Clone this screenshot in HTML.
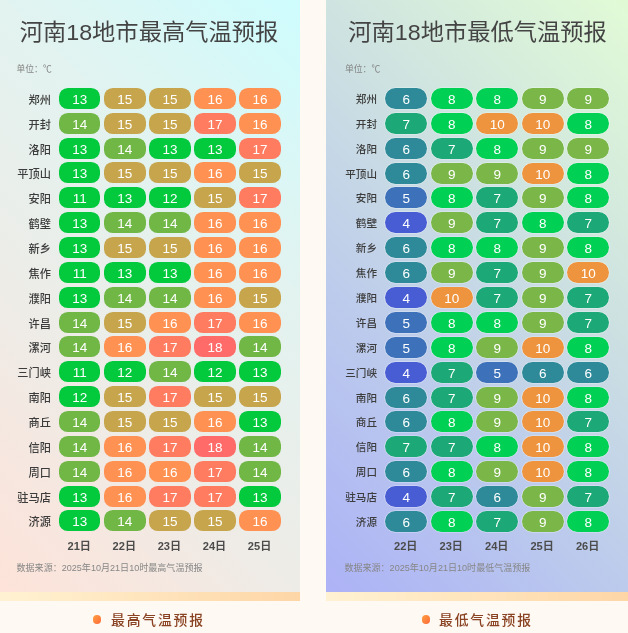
<!DOCTYPE html>
<html lang="zh-CN"><head><meta charset="utf-8"><title>河南18地市气温预报</title>
<style>
html,body{margin:0;padding:0}
body{width:628px;height:633px;background:#fef9f3;position:relative;overflow:hidden;font-family:"Liberation Sans","Noto Sans CJK SC",sans-serif}
.panel{position:absolute;top:0;height:592px;overflow:hidden}
.panel.l{background:linear-gradient(225deg,#cffcfd 1%,#e2f3f0 33.5%,#eeece7 66%,#fde3d9 99%)}
.panel.r{background:linear-gradient(225deg,#e1fad6 1%,#cfe4e0 33.5%,#bccbec 66%,#adb3f6 99%)}
.band{position:absolute;top:592px;height:9px;background:linear-gradient(90deg,#fff2d2,#fed6a6)}
.title{position:absolute;top:14.5px;font-size:23.28px;line-height:34px;color:#444;white-space:nowrap;font-weight:400;transform:scaleY(.955);transform-origin:0 27px}
.unit{position:absolute;top:62px;font-size:8.8px;line-height:14px;color:#848484;white-space:nowrap}
.city{position:absolute;left:0;height:21px;line-height:23.4px;font-size:10.6px;font-weight:500;color:#3c3c3c;text-align:right;white-space:nowrap}
.pill{position:absolute;height:21px;line-height:23px;text-align:center;color:#fff;font-size:13.5px}
.l .city{line-height:24.8px}
.r .pill{box-shadow:0 0 0 0.6px rgba(255,255,255,.5)}
.day{position:absolute;top:536px;height:20px;line-height:20px;font-size:11.1px;font-weight:700;color:#4c4c4c;text-align:center;margin-left:-.5px;white-space:nowrap}
.src{position:absolute;top:560.5px;font-size:9.05px;line-height:14px;color:#868686;white-space:nowrap}
.cap{position:absolute;top:609.6px;height:22px;line-height:22px;font-size:13.8px;font-weight:500;color:#8a4322;white-space:nowrap;letter-spacing:1.83px}
.dot{position:absolute;top:615px;width:8.6px;height:8.6px;border-radius:50%;background:linear-gradient(135deg,#ffa040,#ff6a3a)}
</style></head><body>
<div class="panel l" style="left:0px;width:300px">
<div class="title" style="left:19.7px">河南18地市最高气温预报</div>
<div class="unit" style="left:16.5px">单位：℃</div>
<div class="city" style="top:87.90px;width:50.9px;font-size:11.2px">郑州</div>
<div class="pill" style="top:87.90px;left:59.05px;width:41.4px;background:#03c93d;border-radius:8.8px">13</div>
<div class="pill" style="top:87.90px;left:104.13px;width:41.4px;background:#c6a54d;border-radius:8.8px">15</div>
<div class="pill" style="top:87.90px;left:149.21px;width:41.4px;background:#c6a54d;border-radius:8.8px">15</div>
<div class="pill" style="top:87.90px;left:194.29px;width:41.4px;background:#ff9253;border-radius:8.8px">16</div>
<div class="pill" style="top:87.90px;left:239.37px;width:41.4px;background:#ff9253;border-radius:8.8px">16</div>
<div class="city" style="top:112.75px;width:50.9px;font-size:11.2px">开封</div>
<div class="pill" style="top:112.75px;left:59.05px;width:41.4px;background:#70b746;border-radius:8.8px">14</div>
<div class="pill" style="top:112.75px;left:104.13px;width:41.4px;background:#c6a54d;border-radius:8.8px">15</div>
<div class="pill" style="top:112.75px;left:149.21px;width:41.4px;background:#c6a54d;border-radius:8.8px">15</div>
<div class="pill" style="top:112.75px;left:194.29px;width:41.4px;background:#ff7c60;border-radius:8.8px">17</div>
<div class="pill" style="top:112.75px;left:239.37px;width:41.4px;background:#ff9253;border-radius:8.8px">16</div>
<div class="city" style="top:137.60px;width:50.9px;font-size:11.2px">洛阳</div>
<div class="pill" style="top:137.60px;left:59.05px;width:41.4px;background:#03c93d;border-radius:8.8px">13</div>
<div class="pill" style="top:137.60px;left:104.13px;width:41.4px;background:#70b746;border-radius:8.8px">14</div>
<div class="pill" style="top:137.60px;left:149.21px;width:41.4px;background:#03c93d;border-radius:8.8px">13</div>
<div class="pill" style="top:137.60px;left:194.29px;width:41.4px;background:#03c93d;border-radius:8.8px">13</div>
<div class="pill" style="top:137.60px;left:239.37px;width:41.4px;background:#ff7c60;border-radius:8.8px">17</div>
<div class="city" style="top:162.45px;width:50.9px;font-size:11.2px">平顶山</div>
<div class="pill" style="top:162.45px;left:59.05px;width:41.4px;background:#03c93d;border-radius:8.8px">13</div>
<div class="pill" style="top:162.45px;left:104.13px;width:41.4px;background:#c6a54d;border-radius:8.8px">15</div>
<div class="pill" style="top:162.45px;left:149.21px;width:41.4px;background:#c6a54d;border-radius:8.8px">15</div>
<div class="pill" style="top:162.45px;left:194.29px;width:41.4px;background:#ff9253;border-radius:8.8px">16</div>
<div class="pill" style="top:162.45px;left:239.37px;width:41.4px;background:#c6a54d;border-radius:8.8px">15</div>
<div class="city" style="top:187.30px;width:50.9px;font-size:11.2px">安阳</div>
<div class="pill" style="top:187.30px;left:59.05px;width:41.4px;background:#03c93d;border-radius:8.8px">11</div>
<div class="pill" style="top:187.30px;left:104.13px;width:41.4px;background:#03c93d;border-radius:8.8px">13</div>
<div class="pill" style="top:187.30px;left:149.21px;width:41.4px;background:#03c93d;border-radius:8.8px">12</div>
<div class="pill" style="top:187.30px;left:194.29px;width:41.4px;background:#c6a54d;border-radius:8.8px">15</div>
<div class="pill" style="top:187.30px;left:239.37px;width:41.4px;background:#ff7c60;border-radius:8.8px">17</div>
<div class="city" style="top:212.15px;width:50.9px;font-size:11.2px">鹤壁</div>
<div class="pill" style="top:212.15px;left:59.05px;width:41.4px;background:#03c93d;border-radius:8.8px">13</div>
<div class="pill" style="top:212.15px;left:104.13px;width:41.4px;background:#70b746;border-radius:8.8px">14</div>
<div class="pill" style="top:212.15px;left:149.21px;width:41.4px;background:#70b746;border-radius:8.8px">14</div>
<div class="pill" style="top:212.15px;left:194.29px;width:41.4px;background:#ff9253;border-radius:8.8px">16</div>
<div class="pill" style="top:212.15px;left:239.37px;width:41.4px;background:#ff9253;border-radius:8.8px">16</div>
<div class="city" style="top:237.00px;width:50.9px;font-size:11.2px">新乡</div>
<div class="pill" style="top:237.00px;left:59.05px;width:41.4px;background:#03c93d;border-radius:8.8px">13</div>
<div class="pill" style="top:237.00px;left:104.13px;width:41.4px;background:#c6a54d;border-radius:8.8px">15</div>
<div class="pill" style="top:237.00px;left:149.21px;width:41.4px;background:#c6a54d;border-radius:8.8px">15</div>
<div class="pill" style="top:237.00px;left:194.29px;width:41.4px;background:#ff9253;border-radius:8.8px">16</div>
<div class="pill" style="top:237.00px;left:239.37px;width:41.4px;background:#ff9253;border-radius:8.8px">16</div>
<div class="city" style="top:261.85px;width:50.9px;font-size:11.2px">焦作</div>
<div class="pill" style="top:261.85px;left:59.05px;width:41.4px;background:#03c93d;border-radius:8.8px">11</div>
<div class="pill" style="top:261.85px;left:104.13px;width:41.4px;background:#03c93d;border-radius:8.8px">13</div>
<div class="pill" style="top:261.85px;left:149.21px;width:41.4px;background:#03c93d;border-radius:8.8px">13</div>
<div class="pill" style="top:261.85px;left:194.29px;width:41.4px;background:#ff9253;border-radius:8.8px">16</div>
<div class="pill" style="top:261.85px;left:239.37px;width:41.4px;background:#ff9253;border-radius:8.8px">16</div>
<div class="city" style="top:286.70px;width:50.9px;font-size:11.2px">濮阳</div>
<div class="pill" style="top:286.70px;left:59.05px;width:41.4px;background:#03c93d;border-radius:8.8px">13</div>
<div class="pill" style="top:286.70px;left:104.13px;width:41.4px;background:#70b746;border-radius:8.8px">14</div>
<div class="pill" style="top:286.70px;left:149.21px;width:41.4px;background:#70b746;border-radius:8.8px">14</div>
<div class="pill" style="top:286.70px;left:194.29px;width:41.4px;background:#ff9253;border-radius:8.8px">16</div>
<div class="pill" style="top:286.70px;left:239.37px;width:41.4px;background:#c6a54d;border-radius:8.8px">15</div>
<div class="city" style="top:311.55px;width:50.9px;font-size:11.2px">许昌</div>
<div class="pill" style="top:311.55px;left:59.05px;width:41.4px;background:#70b746;border-radius:8.8px">14</div>
<div class="pill" style="top:311.55px;left:104.13px;width:41.4px;background:#c6a54d;border-radius:8.8px">15</div>
<div class="pill" style="top:311.55px;left:149.21px;width:41.4px;background:#ff9253;border-radius:8.8px">16</div>
<div class="pill" style="top:311.55px;left:194.29px;width:41.4px;background:#ff7c60;border-radius:8.8px">17</div>
<div class="pill" style="top:311.55px;left:239.37px;width:41.4px;background:#ff9253;border-radius:8.8px">16</div>
<div class="city" style="top:336.40px;width:50.9px;font-size:11.2px">漯河</div>
<div class="pill" style="top:336.40px;left:59.05px;width:41.4px;background:#70b746;border-radius:8.8px">14</div>
<div class="pill" style="top:336.40px;left:104.13px;width:41.4px;background:#ff9253;border-radius:8.8px">16</div>
<div class="pill" style="top:336.40px;left:149.21px;width:41.4px;background:#ff7c60;border-radius:8.8px">17</div>
<div class="pill" style="top:336.40px;left:194.29px;width:41.4px;background:#ff6b68;border-radius:8.8px">18</div>
<div class="pill" style="top:336.40px;left:239.37px;width:41.4px;background:#70b746;border-radius:8.8px">14</div>
<div class="city" style="top:361.25px;width:50.9px;font-size:11.2px">三门峡</div>
<div class="pill" style="top:361.25px;left:59.05px;width:41.4px;background:#03c93d;border-radius:8.8px">11</div>
<div class="pill" style="top:361.25px;left:104.13px;width:41.4px;background:#03c93d;border-radius:8.8px">12</div>
<div class="pill" style="top:361.25px;left:149.21px;width:41.4px;background:#70b746;border-radius:8.8px">14</div>
<div class="pill" style="top:361.25px;left:194.29px;width:41.4px;background:#03c93d;border-radius:8.8px">12</div>
<div class="pill" style="top:361.25px;left:239.37px;width:41.4px;background:#03c93d;border-radius:8.8px">13</div>
<div class="city" style="top:386.10px;width:50.9px;font-size:11.2px">南阳</div>
<div class="pill" style="top:386.10px;left:59.05px;width:41.4px;background:#03c93d;border-radius:8.8px">12</div>
<div class="pill" style="top:386.10px;left:104.13px;width:41.4px;background:#c6a54d;border-radius:8.8px">15</div>
<div class="pill" style="top:386.10px;left:149.21px;width:41.4px;background:#ff7c60;border-radius:8.8px">17</div>
<div class="pill" style="top:386.10px;left:194.29px;width:41.4px;background:#c6a54d;border-radius:8.8px">15</div>
<div class="pill" style="top:386.10px;left:239.37px;width:41.4px;background:#c6a54d;border-radius:8.8px">15</div>
<div class="city" style="top:410.95px;width:50.9px;font-size:11.2px">商丘</div>
<div class="pill" style="top:410.95px;left:59.05px;width:41.4px;background:#70b746;border-radius:8.8px">14</div>
<div class="pill" style="top:410.95px;left:104.13px;width:41.4px;background:#c6a54d;border-radius:8.8px">15</div>
<div class="pill" style="top:410.95px;left:149.21px;width:41.4px;background:#c6a54d;border-radius:8.8px">15</div>
<div class="pill" style="top:410.95px;left:194.29px;width:41.4px;background:#ff9253;border-radius:8.8px">16</div>
<div class="pill" style="top:410.95px;left:239.37px;width:41.4px;background:#03c93d;border-radius:8.8px">13</div>
<div class="city" style="top:435.80px;width:50.9px;font-size:11.2px">信阳</div>
<div class="pill" style="top:435.80px;left:59.05px;width:41.4px;background:#70b746;border-radius:8.8px">14</div>
<div class="pill" style="top:435.80px;left:104.13px;width:41.4px;background:#ff9253;border-radius:8.8px">16</div>
<div class="pill" style="top:435.80px;left:149.21px;width:41.4px;background:#ff7c60;border-radius:8.8px">17</div>
<div class="pill" style="top:435.80px;left:194.29px;width:41.4px;background:#ff6b68;border-radius:8.8px">18</div>
<div class="pill" style="top:435.80px;left:239.37px;width:41.4px;background:#70b746;border-radius:8.8px">14</div>
<div class="city" style="top:460.65px;width:50.9px;font-size:11.2px">周口</div>
<div class="pill" style="top:460.65px;left:59.05px;width:41.4px;background:#70b746;border-radius:8.8px">14</div>
<div class="pill" style="top:460.65px;left:104.13px;width:41.4px;background:#ff9253;border-radius:8.8px">16</div>
<div class="pill" style="top:460.65px;left:149.21px;width:41.4px;background:#ff9253;border-radius:8.8px">16</div>
<div class="pill" style="top:460.65px;left:194.29px;width:41.4px;background:#ff7c60;border-radius:8.8px">17</div>
<div class="pill" style="top:460.65px;left:239.37px;width:41.4px;background:#70b746;border-radius:8.8px">14</div>
<div class="city" style="top:485.50px;width:50.9px;font-size:11.2px">驻马店</div>
<div class="pill" style="top:485.50px;left:59.05px;width:41.4px;background:#03c93d;border-radius:8.8px">13</div>
<div class="pill" style="top:485.50px;left:104.13px;width:41.4px;background:#ff9253;border-radius:8.8px">16</div>
<div class="pill" style="top:485.50px;left:149.21px;width:41.4px;background:#ff7c60;border-radius:8.8px">17</div>
<div class="pill" style="top:485.50px;left:194.29px;width:41.4px;background:#ff7c60;border-radius:8.8px">17</div>
<div class="pill" style="top:485.50px;left:239.37px;width:41.4px;background:#03c93d;border-radius:8.8px">13</div>
<div class="city" style="top:510.35px;width:50.9px;font-size:11.2px">济源</div>
<div class="pill" style="top:510.35px;left:59.05px;width:41.4px;background:#03c93d;border-radius:8.8px">13</div>
<div class="pill" style="top:510.35px;left:104.13px;width:41.4px;background:#70b746;border-radius:8.8px">14</div>
<div class="pill" style="top:510.35px;left:149.21px;width:41.4px;background:#c6a54d;border-radius:8.8px">15</div>
<div class="pill" style="top:510.35px;left:194.29px;width:41.4px;background:#c6a54d;border-radius:8.8px">15</div>
<div class="pill" style="top:510.35px;left:239.37px;width:41.4px;background:#ff9253;border-radius:8.8px">16</div>
<div class="day" style="left:59.05px;width:41.4px">21日</div>
<div class="day" style="left:104.13px;width:41.4px">22日</div>
<div class="day" style="left:149.21px;width:41.4px">23日</div>
<div class="day" style="left:194.29px;width:41.4px">24日</div>
<div class="day" style="left:239.37px;width:41.4px">25日</div>
<div class="src" style="left:16.5px">数据来源：2025年10月21日10时最高气温预报</div>
</div>
<div class="panel r" style="left:326px;width:302px">
<div class="title" style="left:22.3px">河南18地市最低气温预报</div>
<div class="unit" style="left:19px">单位：℃</div>
<div class="city" style="top:87.90px;width:51px;font-size:10.6px">郑州</div>
<div class="pill" style="top:87.90px;left:59.20px;width:42.1px;background:#2e8a99;border-radius:10.5px">6</div>
<div class="pill" style="top:87.90px;left:104.68px;width:42.1px;background:#00d053;border-radius:10.5px">8</div>
<div class="pill" style="top:87.90px;left:150.16px;width:42.1px;background:#00d053;border-radius:10.5px">8</div>
<div class="pill" style="top:87.90px;left:195.64px;width:42.1px;background:#7ab648;border-radius:10.5px">9</div>
<div class="pill" style="top:87.90px;left:241.12px;width:42.1px;background:#7ab648;border-radius:10.5px">9</div>
<div class="city" style="top:112.79px;width:51px;font-size:10.6px">开封</div>
<div class="pill" style="top:112.79px;left:59.20px;width:42.1px;background:#1ca877;border-radius:10.5px">7</div>
<div class="pill" style="top:112.79px;left:104.68px;width:42.1px;background:#00d053;border-radius:10.5px">8</div>
<div class="pill" style="top:112.79px;left:150.16px;width:42.1px;background:#ee943f;border-radius:10.5px">10</div>
<div class="pill" style="top:112.79px;left:195.64px;width:42.1px;background:#ee943f;border-radius:10.5px">10</div>
<div class="pill" style="top:112.79px;left:241.12px;width:42.1px;background:#00d053;border-radius:10.5px">8</div>
<div class="city" style="top:137.68px;width:51px;font-size:10.6px">洛阳</div>
<div class="pill" style="top:137.68px;left:59.20px;width:42.1px;background:#2e8a99;border-radius:10.5px">6</div>
<div class="pill" style="top:137.68px;left:104.68px;width:42.1px;background:#1ca877;border-radius:10.5px">7</div>
<div class="pill" style="top:137.68px;left:150.16px;width:42.1px;background:#00d053;border-radius:10.5px">8</div>
<div class="pill" style="top:137.68px;left:195.64px;width:42.1px;background:#7ab648;border-radius:10.5px">9</div>
<div class="pill" style="top:137.68px;left:241.12px;width:42.1px;background:#7ab648;border-radius:10.5px">9</div>
<div class="city" style="top:162.57px;width:51px;font-size:10.6px">平顶山</div>
<div class="pill" style="top:162.57px;left:59.20px;width:42.1px;background:#2e8a99;border-radius:10.5px">6</div>
<div class="pill" style="top:162.57px;left:104.68px;width:42.1px;background:#7ab648;border-radius:10.5px">9</div>
<div class="pill" style="top:162.57px;left:150.16px;width:42.1px;background:#7ab648;border-radius:10.5px">9</div>
<div class="pill" style="top:162.57px;left:195.64px;width:42.1px;background:#ee943f;border-radius:10.5px">10</div>
<div class="pill" style="top:162.57px;left:241.12px;width:42.1px;background:#00d053;border-radius:10.5px">8</div>
<div class="city" style="top:187.46px;width:51px;font-size:10.6px">安阳</div>
<div class="pill" style="top:187.46px;left:59.20px;width:42.1px;background:#3d71ba;border-radius:10.5px">5</div>
<div class="pill" style="top:187.46px;left:104.68px;width:42.1px;background:#00d053;border-radius:10.5px">8</div>
<div class="pill" style="top:187.46px;left:150.16px;width:42.1px;background:#1ca877;border-radius:10.5px">7</div>
<div class="pill" style="top:187.46px;left:195.64px;width:42.1px;background:#7ab648;border-radius:10.5px">9</div>
<div class="pill" style="top:187.46px;left:241.12px;width:42.1px;background:#00d053;border-radius:10.5px">8</div>
<div class="city" style="top:212.35px;width:51px;font-size:10.6px">鹤壁</div>
<div class="pill" style="top:212.35px;left:59.20px;width:42.1px;background:#485cd4;border-radius:10.5px">4</div>
<div class="pill" style="top:212.35px;left:104.68px;width:42.1px;background:#7ab648;border-radius:10.5px">9</div>
<div class="pill" style="top:212.35px;left:150.16px;width:42.1px;background:#1ca877;border-radius:10.5px">7</div>
<div class="pill" style="top:212.35px;left:195.64px;width:42.1px;background:#00d053;border-radius:10.5px">8</div>
<div class="pill" style="top:212.35px;left:241.12px;width:42.1px;background:#1ca877;border-radius:10.5px">7</div>
<div class="city" style="top:237.24px;width:51px;font-size:10.6px">新乡</div>
<div class="pill" style="top:237.24px;left:59.20px;width:42.1px;background:#2e8a99;border-radius:10.5px">6</div>
<div class="pill" style="top:237.24px;left:104.68px;width:42.1px;background:#00d053;border-radius:10.5px">8</div>
<div class="pill" style="top:237.24px;left:150.16px;width:42.1px;background:#00d053;border-radius:10.5px">8</div>
<div class="pill" style="top:237.24px;left:195.64px;width:42.1px;background:#7ab648;border-radius:10.5px">9</div>
<div class="pill" style="top:237.24px;left:241.12px;width:42.1px;background:#00d053;border-radius:10.5px">8</div>
<div class="city" style="top:262.13px;width:51px;font-size:10.6px">焦作</div>
<div class="pill" style="top:262.13px;left:59.20px;width:42.1px;background:#2e8a99;border-radius:10.5px">6</div>
<div class="pill" style="top:262.13px;left:104.68px;width:42.1px;background:#7ab648;border-radius:10.5px">9</div>
<div class="pill" style="top:262.13px;left:150.16px;width:42.1px;background:#1ca877;border-radius:10.5px">7</div>
<div class="pill" style="top:262.13px;left:195.64px;width:42.1px;background:#7ab648;border-radius:10.5px">9</div>
<div class="pill" style="top:262.13px;left:241.12px;width:42.1px;background:#ee943f;border-radius:10.5px">10</div>
<div class="city" style="top:287.02px;width:51px;font-size:10.6px">濮阳</div>
<div class="pill" style="top:287.02px;left:59.20px;width:42.1px;background:#485cd4;border-radius:10.5px">4</div>
<div class="pill" style="top:287.02px;left:104.68px;width:42.1px;background:#ee943f;border-radius:10.5px">10</div>
<div class="pill" style="top:287.02px;left:150.16px;width:42.1px;background:#1ca877;border-radius:10.5px">7</div>
<div class="pill" style="top:287.02px;left:195.64px;width:42.1px;background:#7ab648;border-radius:10.5px">9</div>
<div class="pill" style="top:287.02px;left:241.12px;width:42.1px;background:#1ca877;border-radius:10.5px">7</div>
<div class="city" style="top:311.91px;width:51px;font-size:10.6px">许昌</div>
<div class="pill" style="top:311.91px;left:59.20px;width:42.1px;background:#3d71ba;border-radius:10.5px">5</div>
<div class="pill" style="top:311.91px;left:104.68px;width:42.1px;background:#00d053;border-radius:10.5px">8</div>
<div class="pill" style="top:311.91px;left:150.16px;width:42.1px;background:#00d053;border-radius:10.5px">8</div>
<div class="pill" style="top:311.91px;left:195.64px;width:42.1px;background:#7ab648;border-radius:10.5px">9</div>
<div class="pill" style="top:311.91px;left:241.12px;width:42.1px;background:#1ca877;border-radius:10.5px">7</div>
<div class="city" style="top:336.80px;width:51px;font-size:10.6px">漯河</div>
<div class="pill" style="top:336.80px;left:59.20px;width:42.1px;background:#3d71ba;border-radius:10.5px">5</div>
<div class="pill" style="top:336.80px;left:104.68px;width:42.1px;background:#00d053;border-radius:10.5px">8</div>
<div class="pill" style="top:336.80px;left:150.16px;width:42.1px;background:#7ab648;border-radius:10.5px">9</div>
<div class="pill" style="top:336.80px;left:195.64px;width:42.1px;background:#ee943f;border-radius:10.5px">10</div>
<div class="pill" style="top:336.80px;left:241.12px;width:42.1px;background:#00d053;border-radius:10.5px">8</div>
<div class="city" style="top:361.69px;width:51px;font-size:10.6px">三门峡</div>
<div class="pill" style="top:361.69px;left:59.20px;width:42.1px;background:#485cd4;border-radius:10.5px">4</div>
<div class="pill" style="top:361.69px;left:104.68px;width:42.1px;background:#1ca877;border-radius:10.5px">7</div>
<div class="pill" style="top:361.69px;left:150.16px;width:42.1px;background:#3d71ba;border-radius:10.5px">5</div>
<div class="pill" style="top:361.69px;left:195.64px;width:42.1px;background:#2e8a99;border-radius:10.5px">6</div>
<div class="pill" style="top:361.69px;left:241.12px;width:42.1px;background:#2e8a99;border-radius:10.5px">6</div>
<div class="city" style="top:386.58px;width:51px;font-size:10.6px">南阳</div>
<div class="pill" style="top:386.58px;left:59.20px;width:42.1px;background:#2e8a99;border-radius:10.5px">6</div>
<div class="pill" style="top:386.58px;left:104.68px;width:42.1px;background:#1ca877;border-radius:10.5px">7</div>
<div class="pill" style="top:386.58px;left:150.16px;width:42.1px;background:#7ab648;border-radius:10.5px">9</div>
<div class="pill" style="top:386.58px;left:195.64px;width:42.1px;background:#ee943f;border-radius:10.5px">10</div>
<div class="pill" style="top:386.58px;left:241.12px;width:42.1px;background:#00d053;border-radius:10.5px">8</div>
<div class="city" style="top:411.47px;width:51px;font-size:10.6px">商丘</div>
<div class="pill" style="top:411.47px;left:59.20px;width:42.1px;background:#2e8a99;border-radius:10.5px">6</div>
<div class="pill" style="top:411.47px;left:104.68px;width:42.1px;background:#00d053;border-radius:10.5px">8</div>
<div class="pill" style="top:411.47px;left:150.16px;width:42.1px;background:#7ab648;border-radius:10.5px">9</div>
<div class="pill" style="top:411.47px;left:195.64px;width:42.1px;background:#ee943f;border-radius:10.5px">10</div>
<div class="pill" style="top:411.47px;left:241.12px;width:42.1px;background:#1ca877;border-radius:10.5px">7</div>
<div class="city" style="top:436.36px;width:51px;font-size:10.6px">信阳</div>
<div class="pill" style="top:436.36px;left:59.20px;width:42.1px;background:#1ca877;border-radius:10.5px">7</div>
<div class="pill" style="top:436.36px;left:104.68px;width:42.1px;background:#1ca877;border-radius:10.5px">7</div>
<div class="pill" style="top:436.36px;left:150.16px;width:42.1px;background:#00d053;border-radius:10.5px">8</div>
<div class="pill" style="top:436.36px;left:195.64px;width:42.1px;background:#ee943f;border-radius:10.5px">10</div>
<div class="pill" style="top:436.36px;left:241.12px;width:42.1px;background:#00d053;border-radius:10.5px">8</div>
<div class="city" style="top:461.25px;width:51px;font-size:10.6px">周口</div>
<div class="pill" style="top:461.25px;left:59.20px;width:42.1px;background:#2e8a99;border-radius:10.5px">6</div>
<div class="pill" style="top:461.25px;left:104.68px;width:42.1px;background:#00d053;border-radius:10.5px">8</div>
<div class="pill" style="top:461.25px;left:150.16px;width:42.1px;background:#7ab648;border-radius:10.5px">9</div>
<div class="pill" style="top:461.25px;left:195.64px;width:42.1px;background:#ee943f;border-radius:10.5px">10</div>
<div class="pill" style="top:461.25px;left:241.12px;width:42.1px;background:#00d053;border-radius:10.5px">8</div>
<div class="city" style="top:486.14px;width:51px;font-size:10.6px">驻马店</div>
<div class="pill" style="top:486.14px;left:59.20px;width:42.1px;background:#485cd4;border-radius:10.5px">4</div>
<div class="pill" style="top:486.14px;left:104.68px;width:42.1px;background:#1ca877;border-radius:10.5px">7</div>
<div class="pill" style="top:486.14px;left:150.16px;width:42.1px;background:#2e8a99;border-radius:10.5px">6</div>
<div class="pill" style="top:486.14px;left:195.64px;width:42.1px;background:#7ab648;border-radius:10.5px">9</div>
<div class="pill" style="top:486.14px;left:241.12px;width:42.1px;background:#1ca877;border-radius:10.5px">7</div>
<div class="city" style="top:511.03px;width:51px;font-size:10.6px">济源</div>
<div class="pill" style="top:511.03px;left:59.20px;width:42.1px;background:#2e8a99;border-radius:10.5px">6</div>
<div class="pill" style="top:511.03px;left:104.68px;width:42.1px;background:#00d053;border-radius:10.5px">8</div>
<div class="pill" style="top:511.03px;left:150.16px;width:42.1px;background:#1ca877;border-radius:10.5px">7</div>
<div class="pill" style="top:511.03px;left:195.64px;width:42.1px;background:#7ab648;border-radius:10.5px">9</div>
<div class="pill" style="top:511.03px;left:241.12px;width:42.1px;background:#00d053;border-radius:10.5px">8</div>
<div class="day" style="left:59.20px;width:42.1px">22日</div>
<div class="day" style="left:104.68px;width:42.1px">23日</div>
<div class="day" style="left:150.16px;width:42.1px">24日</div>
<div class="day" style="left:195.64px;width:42.1px">25日</div>
<div class="day" style="left:241.12px;width:42.1px">26日</div>
<div class="src" style="left:18.4px">数据来源：2025年10月21日10时最低气温预报</div>
</div>
<div class="band" style="left:0;width:300px"></div>
<div class="band" style="left:326px;width:302px"></div>
<div class="dot" style="left:92.8px"></div><div class="cap" style="left:111px">最高气温预报</div>
<div class="dot" style="left:421.8px"></div><div class="cap" style="left:439px">最低气温预报</div>
</body></html>
